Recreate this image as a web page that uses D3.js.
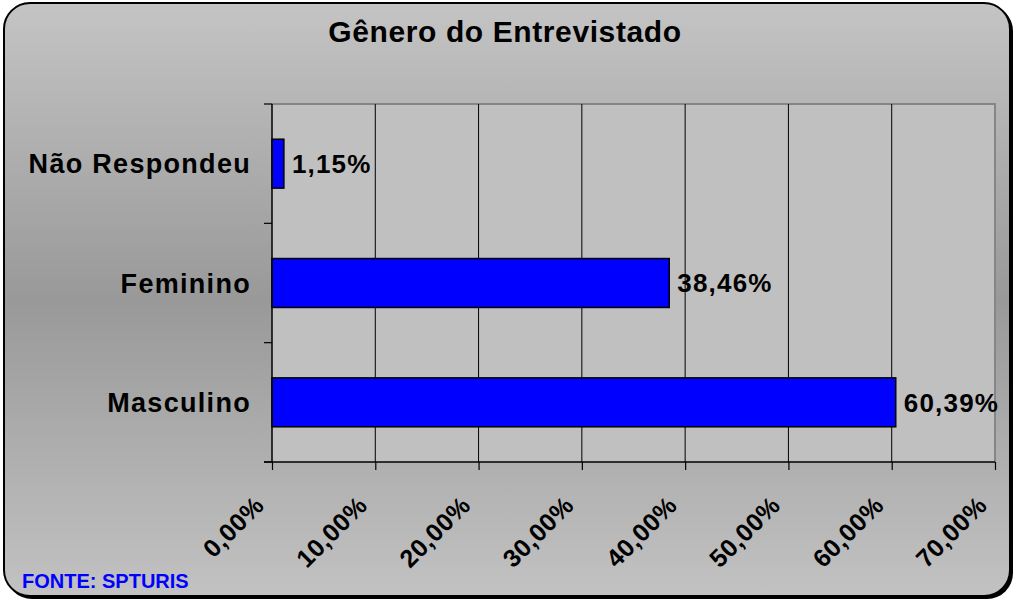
<!DOCTYPE html>
<html><head><meta charset="utf-8">
<script src="https://cdn.jsdelivr.net/npm/d3@7"></script>
<style>body{margin:0;background:#fff}svg{display:block}text{font-family:"Liberation Sans",Arial,sans-serif;font-weight:bold}</style>
</head><body><svg id="c" width="1016" height="602"></svg>
<script>
const title = "Gênero do Entrevistado";
const categories = ["Não Respondeu", "Feminino", "Masculino"];
const values = [1.15, 38.46, 60.39];
const xTicks = [0, 10, 20, 30, 40, 50, 60, 70];
const source = "FONTE: SPTURIS";

const loc = d3.formatLocale({decimal: ",", thousands: ".", grouping: [3], currency: ["", ""]});
const fmt = v => loc.format(".2f")(v) + "%";

const svg = d3.select("#c");
const defs = svg.append("defs");
const g1 = defs.append("linearGradient").attr("id", "bg").attr("x1", 0).attr("y1", 0).attr("x2", 0).attr("y2", 1);
g1.append("stop").attr("offset", "0%").attr("stop-color", "#c4c4c4");
g1.append("stop").attr("offset", "50%").attr("stop-color", "#999999");
g1.append("stop").attr("offset", "100%").attr("stop-color", "#c2c2c2");

// frame shadow + frame
svg.append("rect").attr("x", 6).attr("y", 5).attr("width", 1007).attr("height", 594).attr("rx", 26).attr("fill", "#000");
svg.append("rect").attr("x", 4).attr("y", 3).attr("width", 1006).attr("height", 593).attr("rx", 26)
  .attr("fill", "url(#bg)").attr("stroke", "#000").attr("stroke-width", 2);

const m = {l: 272, r: 995, t: 104, b: 462};
const x = d3.scaleLinear().domain([0, 70]).range([m.l, m.r]);
const y = d3.scaleBand().domain(categories).range([m.t, m.b]).paddingInner(0.59).paddingOuter(0.295);

// plot area
svg.append("rect").attr("x", m.l).attr("y", m.t).attr("width", m.r - m.l).attr("height", m.b - m.t).attr("fill", "#c0c0c0");
svg.append("path").attr("d", `M${m.l},${m.t}H${m.r}V${m.b}`).attr("fill", "none").attr("stroke", "#858585").attr("stroke-width", 2);

// gridlines
svg.append("g").selectAll("line").data(xTicks.slice(1, -1)).join("line")
  .attr("x1", d => x(d)).attr("x2", d => x(d)).attr("y1", m.t).attr("y2", m.b)
  .attr("stroke", "#000").attr("stroke-width", 1);

// bars
svg.append("g").selectAll("rect").data(values).join("rect")
  .attr("x", m.l).attr("y", (d, i) => y(categories[i]))
  .attr("width", d => x(d) - m.l).attr("height", y.bandwidth())
  .attr("fill", "#0000ff").attr("stroke", "#000").attr("stroke-width", 1.5);

// value labels
svg.append("g").selectAll("text").data(values).join("text")
  .attr("x", d => x(d) + 8).attr("y", (d, i) => y(categories[i]) + y.bandwidth() / 2)
  .attr("dy", "0.36em").attr("font-size", 26).attr("letter-spacing", 1.2).attr("fill", "#000")
  .text(d => fmt(d));

// x axis
const xa = svg.append("g").attr("transform", `translate(0,${m.b})`)
  .call(d3.axisBottom(x).tickValues(xTicks).tickSize(8).tickFormat(fmt));
xa.select(".domain").attr("d", `M${m.l - 8},0H${m.r}`).attr("stroke", "#000").attr("stroke-width", 1.5);
xa.selectAll(".tick line").attr("stroke", "#000").attr("stroke-width", 1.2);
xa.selectAll(".tick text").attr("font-size", 25).attr("letter-spacing", 0.5).attr("fill", "#000")
  .attr("text-anchor", "end").attr("dy", 0).attr("y", 0)
  .attr("transform", "translate(-7,45) rotate(-45)");

// y axis
const ya = svg.append("g").attr("transform", `translate(${m.l},0)`);
ya.append("line").attr("x1", 0).attr("x2", 0).attr("y1", m.t).attr("y2", m.b).attr("stroke", "#000").attr("stroke-width", 1.5);
const bounds = categories.map(c => y(c) - y.step() * y.paddingInner() / 2).concat([m.b]);
ya.selectAll("line.t").data(bounds).join("line").attr("class", "t")
  .attr("x1", -8).attr("x2", 0).attr("y1", d => d).attr("y2", d => d).attr("stroke", "#000").attr("stroke-width", 1.2);
ya.selectAll("text").data(categories).join("text")
  .attr("x", -21).attr("y", d => y(d) + y.bandwidth() / 2).attr("dy", "0.36em")
  .attr("text-anchor", "end").attr("font-size", 27).attr("letter-spacing", 1.3).attr("fill", "#000")
  .text(d => d);

// title
svg.append("text").attr("x", 505).attr("y", 42).attr("text-anchor", "middle")
  .attr("font-size", 30).attr("letter-spacing", 0.6).attr("fill", "#000").text(title);

// source
svg.append("text").attr("x", 22).attr("y", 588).attr("font-size", 20).attr("fill", "#0000ff").text(source);
</script></body></html>
